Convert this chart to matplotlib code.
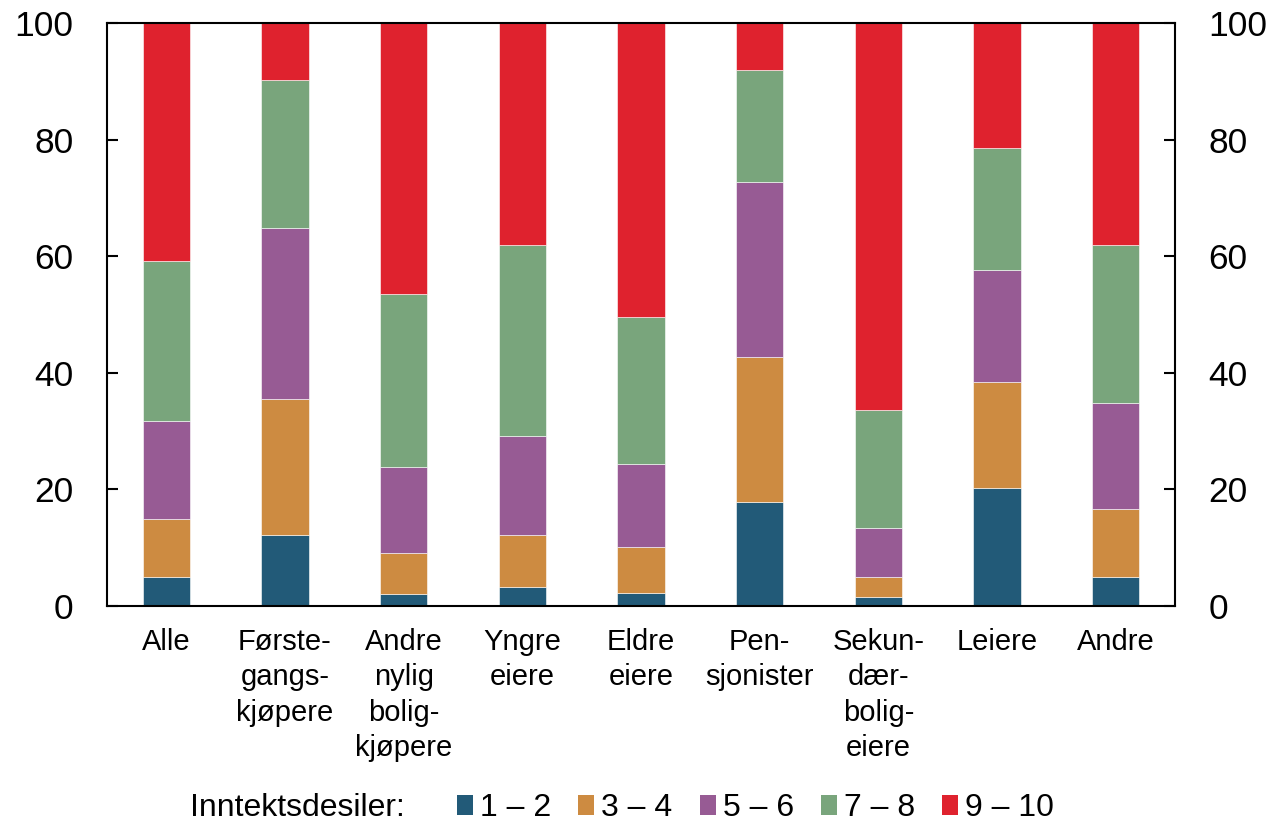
import matplotlib
matplotlib.use("Agg")
import matplotlib.pyplot as plt
from matplotlib.patches import Patch
import numpy as np

plt.rcParams['font.family'] = ['Liberation Sans', 'DejaVu Sans']

# grupper (x-akse)
grupper = ["Alle", "Første-\ngangs-\nkjøpere", "Andre\nnylig\nbolig-\nkjøpere",
           "Yngre\neiere", "Eldre\neiere", "Pen-\nsjonister",
           "Sekun-\ndær-\nbolig-\neiere", "Leiere", "Andre"]

# andel i hver inntektsdesil-gruppe (prosent)
des_1_2 = [5.0, 12.1, 2.1, 3.2, 2.3, 17.8, 1.6, 20.2, 4.9]
des_3_4 = [10.0, 23.4, 7.0, 8.9, 7.9, 24.9, 3.3, 18.3, 11.7]
des_5_6 = [16.8, 29.4, 14.7, 17.1, 14.2, 30.1, 8.5, 19.1, 18.3]
des_7_8 = [27.3, 25.4, 29.7, 32.8, 25.1, 19.1, 20.3, 20.9, 27.1]
des_9_10 = [40.9, 9.7, 46.5, 38.0, 50.5, 8.1, 66.3, 21.5, 38.0]

serier = [des_1_2, des_3_4, des_5_6, des_7_8, des_9_10]
navn = ["1 – 2", "3 – 4", "5 – 6", "7 – 8", "9 – 10"]
farger = ["#225a78", "#cd8b41", "#975b94", "#79a57c", "#df222e"]

fig = plt.figure(figsize=(12.78, 8.25), dpi=100)
ax = fig.add_axes([107/1278, 1 - 606/825, (1175 - 107)/1278, (606 - 23)/825])

x = np.arange(len(grupper))
bunn = np.zeros(len(grupper))
for verdier, farge, n in zip(serier, farger, navn):
    ax.bar(x, verdier, width=0.4, bottom=bunn, color=farge, label=n,
           edgecolor="white", linewidth=0.4)
    bunn += np.array(verdier)

ax.set_xlim(-0.5, 8.5)
ax.set_ylim(0, 100)
ax.set_yticks(range(0, 101, 20))
ax.set_xticks(x)
ax.set_xticklabels(grupper, fontsize=21, linespacing=1.33)
ax.tick_params(axis="x", length=0, pad=16)
ax.tick_params(axis="y", direction="in", length=8, width=1.5, labelsize=25.5,
               pad=24, right=True, labelright=True)
for s in ax.spines.values():
    s.set_linewidth(1.5)

handles = [Patch(facecolor=f, edgecolor="none") for f in farger]
fig.text(190/1278, 1 - 808/825, "Inntektsdesiler:", fontsize=23,
         ha="left", va="center")
fig.legend(handles, navn, loc="center left", bbox_to_anchor=(457/1278, 1 - 808/825),
           ncol=5, frameon=False, fontsize=23, handlelength=0.5, handleheight=0.6,
           handletextpad=0.22, columnspacing=0.85, borderpad=0, borderaxespad=0)

fig.savefig("out.png", dpi=100)
